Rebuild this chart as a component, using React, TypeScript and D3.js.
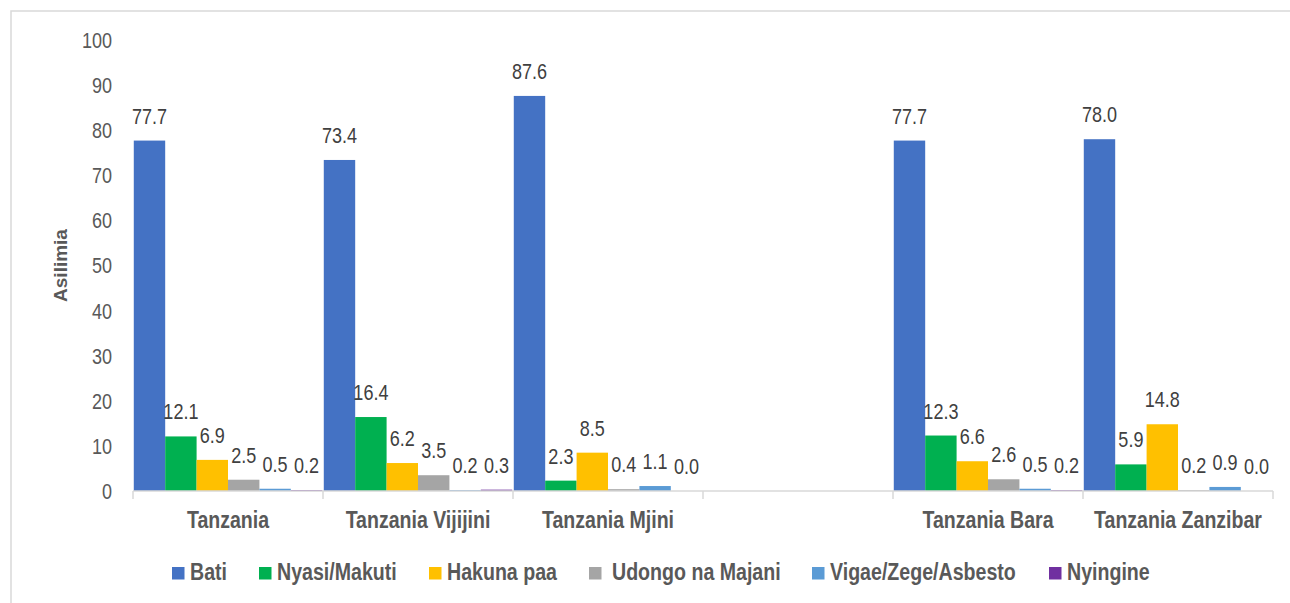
import React from "react";
import * as d3 from "d3";

const categories = ["Tanzania", "Tanzania Vijijini", "Tanzania Mjini", "", "Tanzania Bara", "Tanzania Zanzibar"];
const seriesNames = ["Bati", "Nyasi/Makuti", "Hakuna paa", "Udongo na Majani", "Vigae/Zege/Asbesto", "Nyingine"];
const seriesColors = ["#4472C4", "#00B050", "#FFC000", "#A5A5A5", "#5B9BD5", "#7030A0"];
const bati = [77.7, 73.4, 87.6, null, 77.7, 78.0];
const nyasi = [12.1, 16.4, 2.3, null, 12.3, 5.9];
const hakuna = [6.9, 6.2, 8.5, null, 6.6, 14.8];
const udongo = [2.5, 3.5, 0.4, null, 2.6, 0.2];
const vigae = [0.5, 0.2, 1.1, null, 0.5, 0.9];
const nyingine = [0.2, 0.3, 0.0, null, 0.2, 0.0];
const seriesValues = [bati, nyasi, hakuna, udongo, vigae, nyingine];
const yTicks = [0, 10, 20, 30, 40, 50, 60, 70, 80, 90, 100];

const FONT = "'Liberation Sans', Arial, sans-serif";

function NText(props: {
  x: number;
  y: number;
  sx: number;
  size: number;
  anchor?: string;
  weight?: string;
  fill: string;
  dy?: string;
  children: React.ReactNode;
}) {
  const { x, y, sx, size, anchor = "start", weight = "normal", fill, dy, children } = props;
  return (
    <text
      transform={`translate(${x},${y}) scale(${sx},1)`}
      textAnchor={anchor}
      fontSize={size}
      fontWeight={weight}
      fill={fill}
      dy={dy}
    >
      {children}
    </text>
  );
}

export default function App() {
  const W = 1290, H = 603;
  const left = 133, right = 1273, top = 40, bottom = 491;
  const x = d3.scaleBand<number>().domain(d3.range(categories.length)).range([left, right]).paddingInner(0).paddingOuter(0);
  const inner = d3.scaleBand<number>().domain(d3.range(seriesNames.length)).range([0, x.bandwidth()]).paddingOuter(0.025).paddingInner(0);
  const y = d3.scaleLinear().domain([0, 100]).range([bottom, top]);
  const boundaries = d3.range(categories.length + 1).map((i) => left + i * x.bandwidth());

  const legendSq = [172, 259, 429, 589, 812, 1049];
  const legendTxt = [190, 277, 447, 612, 830, 1067];

  return (
    <svg width={W} height={H} style={{ position: "absolute", left: 0, top: 0, background: "#fff" }} fontFamily={FONT}>
      <rect x={0} y={0} width={W} height={H} fill="#fff" />
      <rect x={11} y={11} width={W + 20} height={H + 20} fill="none" stroke="#d9d9d9" strokeWidth={1.5} />
      {/* y tick labels */}
      {yTicks.map((t) => (
        <NText key={t} x={112} y={y(t)} dy="0.36em" sx={0.82} size={22} anchor="end" fill="#595959">
          {t}
        </NText>
      ))}
      <text transform={`translate(67,${(top + bottom) / 2}) rotate(-90)`} textAnchor="middle" fontSize={19} fontWeight="bold" fill="#595959">
        Asilimia
      </text>
      {/* bars */}
      {seriesValues.map((vals, s) =>
        vals.map((v, c) =>
          v == null ? null : (
            <rect key={`${s}-${c}`} x={(x(c) ?? 0) + (inner(s) ?? 0)} y={y(v)} width={inner.bandwidth()} height={y(0) - y(v)} fill={seriesColors[s]} />
          )
        )
      )}
      {/* axis */}
      <line x1={left} x2={right} y1={bottom} y2={bottom} stroke="#d9d9d9" strokeWidth={1.5} />
      {boundaries.map((b, i) => (
        <line key={i} x1={b} x2={b} y1={bottom} y2={bottom + 8} stroke="#d9d9d9" strokeWidth={1.5} />
      ))}
      {/* data labels */}
      {seriesValues.map((vals, s) =>
        vals.map((v, c) =>
          v == null ? null : (
            <NText key={`l${s}-${c}`} x={(x(c) ?? 0) + (inner(s) ?? 0) + inner.bandwidth() / 2} y={y(v) - 17} sx={0.82} size={22} anchor="middle" fill="#404040">
              {v.toFixed(1)}
            </NText>
          )
        )
      )}
      {/* category labels */}
      {categories.map((c, i) => (
        <NText key={c + i} x={(x(i) ?? 0) + x.bandwidth() / 2} y={528} sx={0.85} size={23} anchor="middle" weight="bold" fill="#595959">
          {c}
        </NText>
      ))}
      {/* legend */}
      {seriesNames.map((n, i) => (
        <g key={n}>
          <rect x={legendSq[i]} y={567} width={12.5} height={12.5} fill={seriesColors[i]} />
          <NText x={legendTxt[i]} y={580} sx={0.8} size={24.5} weight="bold" fill="#595959">
            {n}
          </NText>
        </g>
      ))}
    </svg>
  );
}
